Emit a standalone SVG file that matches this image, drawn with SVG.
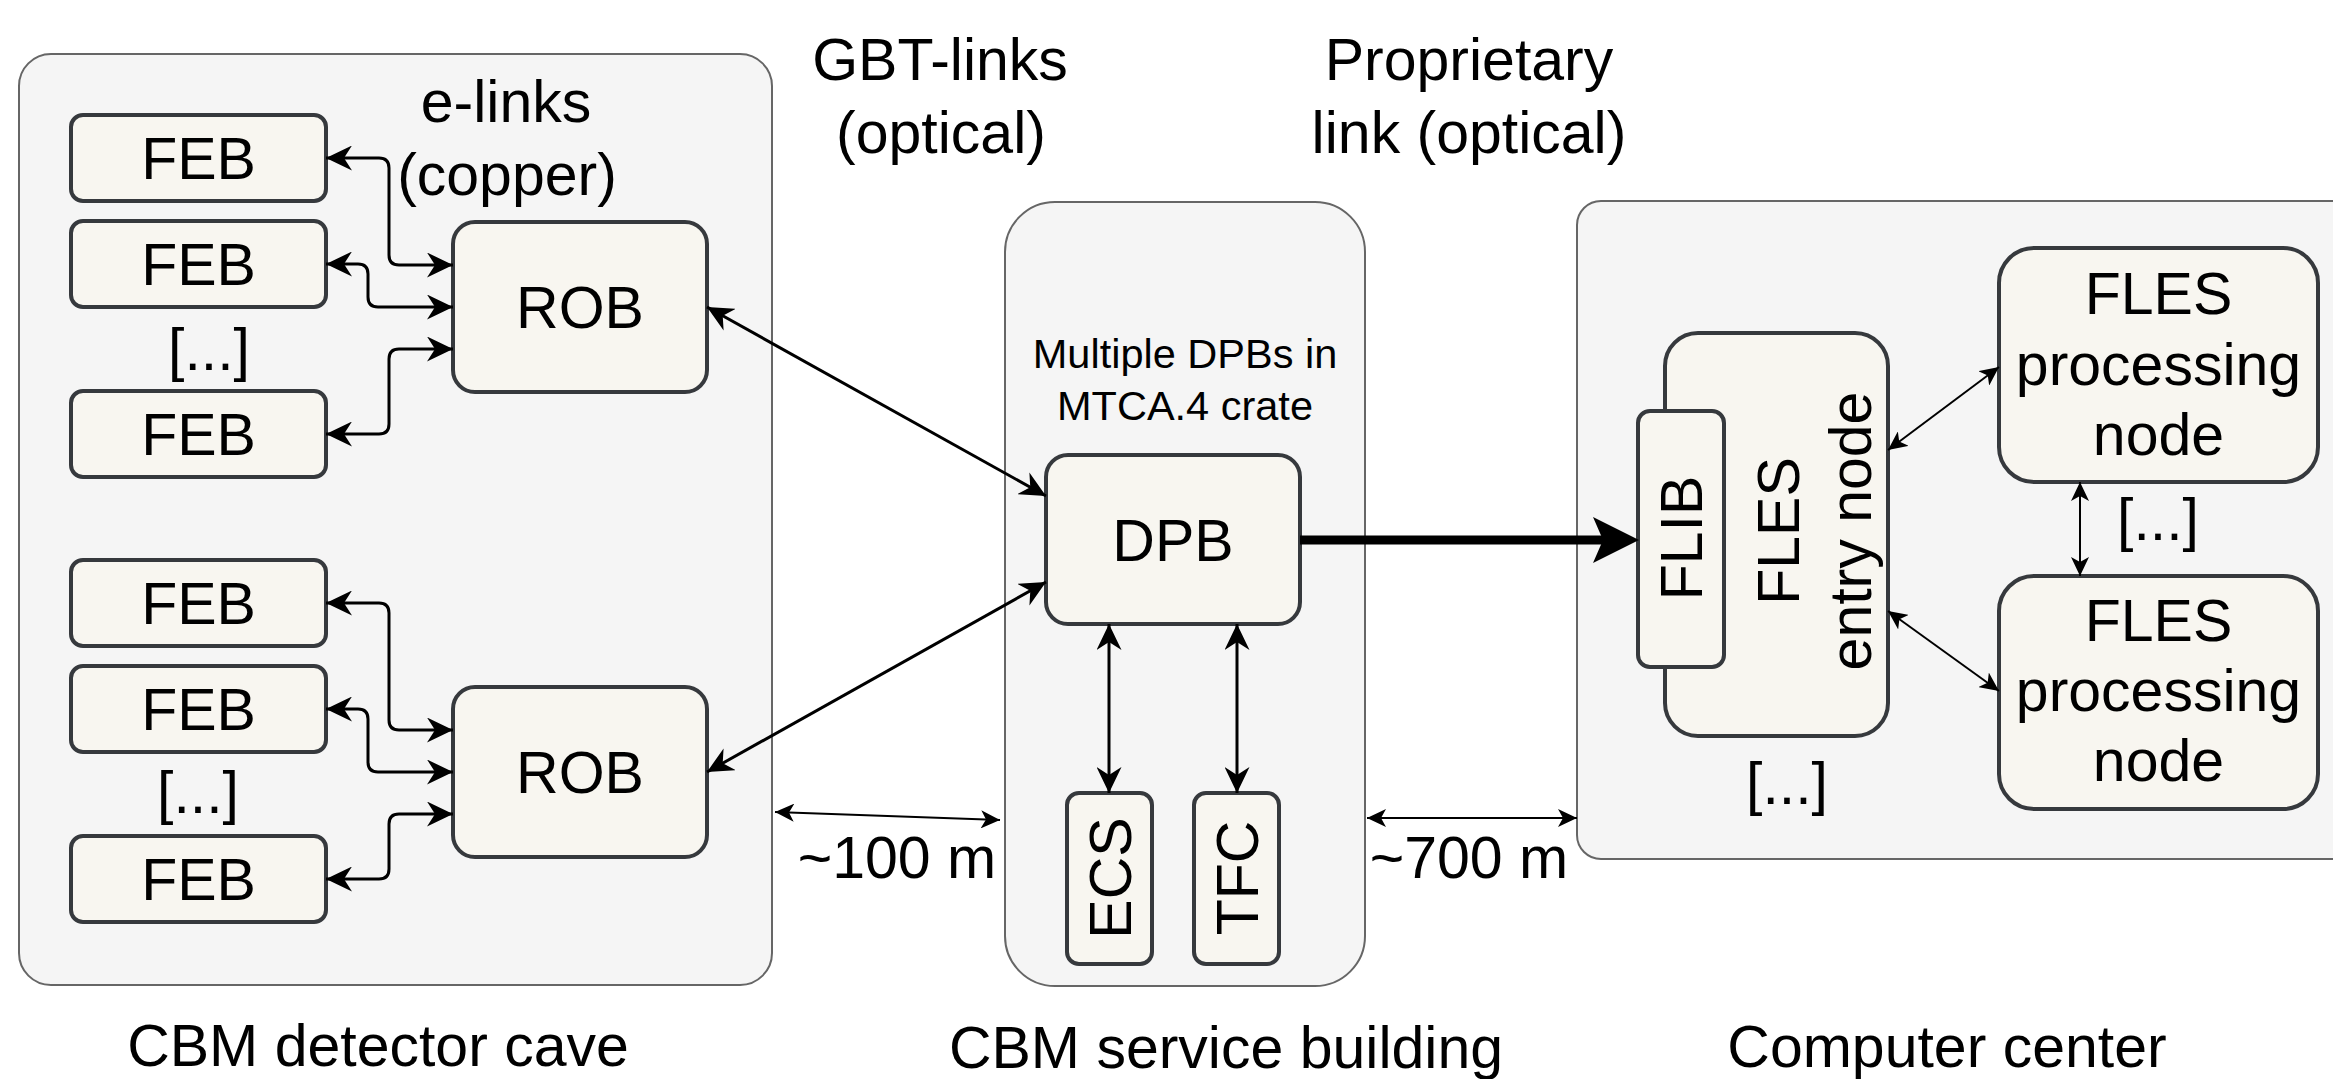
<svg xmlns="http://www.w3.org/2000/svg" width="2333" height="1079" viewBox="0 0 2333 1079">
  <style>
    text { font-family: "Liberation Sans", Arial, Helvetica, sans-serif; fill: #000; }
    .big { font-size: 59px; text-anchor: middle; }
    .small { font-size: 41.5px; text-anchor: middle; }
    .area { fill: #f5f5f5; stroke: #666666; stroke-width: 2; }
    .box { fill: #f8f6f0; stroke: #36393d; stroke-width: 4; }
    .link { fill: none; stroke: #000; stroke-width: 3; marker-start: url(#headM); marker-end: url(#headM); }
    .thin { fill: none; stroke: #000; stroke-width: 2; marker-start: url(#headS); marker-end: url(#headS); }
    .bold { fill: none; stroke: #000; stroke-width: 9; marker-end: url(#headL); }
  </style>
  <defs>
    <marker id="headM" viewBox="0 0 26 25" refX="26" refY="12.5" markerWidth="26" markerHeight="25" markerUnits="userSpaceOnUse" orient="auto-start-reverse">
      <path d="M0,0 L26,12.5 L0,25 L8,12.5 Z" fill="#000"/>
    </marker>
    <marker id="headS" viewBox="0 0 19 18" refX="19" refY="9" markerWidth="19" markerHeight="18" markerUnits="userSpaceOnUse" orient="auto-start-reverse">
      <path d="M0,0 L19,9 L0,18 L5,9 Z" fill="#000"/>
    </marker>
    <marker id="headL" viewBox="0 0 46 46" refX="17" refY="23" markerWidth="46" markerHeight="46" markerUnits="userSpaceOnUse" orient="auto">
      <path d="M0,0 L46,23 L0,46 L10,23 Z" fill="#000"/>
    </marker>
  </defs>

  <!-- Site areas -->
  <g id="area-cave">
    <rect class="area" x="19" y="54" width="753" height="931" rx="32"/>
    <text class="big" x="378" y="1066">CBM detector cave</text>
  </g>
  <g id="area-service">
    <rect class="area" x="1005" y="202" width="360" height="784" rx="50"/>
    <text class="big" x="1226" y="1068">CBM service building</text>
    <text class="small" x="1185" y="368">Multiple DPBs in</text>
    <text class="small" x="1185" y="420">MTCA.4 crate</text>
  </g>
  <g id="area-computer">
    <rect class="area" x="1577" y="201" width="800" height="658" rx="24"/>
    <text class="big" x="1947" y="1067">Computer center</text>
  </g>

  <!-- Link labels -->
  <g id="labels">
    <text class="big" x="506" y="122">e-links</text>
    <text class="big" x="507" y="195">(copper)</text>
    <text class="big" x="940" y="80">GBT-links</text>
    <text class="big" x="941" y="153">(optical)</text>
    <text class="big" x="1469" y="80">Proprietary</text>
    <text class="big" x="1469" y="153">link (optical)</text>
    <text class="big" x="897" y="878">~100 m</text>
    <text class="big" x="1469" y="878">~700 m</text>
    <text class="big" x="209" y="370">[...]</text>
    <text class="big" x="198" y="813">[...]</text>
    <text class="big" x="1787" y="804">[...]</text>
    <text class="big" x="2158" y="540">[...]</text>
  </g>

  <!-- Front-end boards -->
  <g id="feb1"><rect class="box" x="71" y="115" width="255" height="86" rx="12"/><text class="big" x="198.5" y="179">FEB</text></g>
  <g id="feb2"><rect class="box" x="71" y="221" width="255" height="86" rx="12"/><text class="big" x="198.5" y="285">FEB</text></g>
  <g id="feb3"><rect class="box" x="71" y="391" width="255" height="86" rx="12"/><text class="big" x="198.5" y="455">FEB</text></g>
  <g id="feb4"><rect class="box" x="71" y="560" width="255" height="86" rx="12"/><text class="big" x="198.5" y="624">FEB</text></g>
  <g id="feb5"><rect class="box" x="71" y="666" width="255" height="86" rx="12"/><text class="big" x="198.5" y="730">FEB</text></g>
  <g id="feb6"><rect class="box" x="71" y="836" width="255" height="86" rx="12"/><text class="big" x="198.5" y="900">FEB</text></g>

  <!-- Readout boards -->
  <g id="rob1"><rect class="box" x="453" y="222" width="254" height="170" rx="22"/><text class="big" x="580" y="328">ROB</text></g>
  <g id="rob2"><rect class="box" x="453" y="687" width="254" height="170" rx="22"/><text class="big" x="580" y="793">ROB</text></g>

  <!-- Service building -->
  <g id="dpb"><rect class="box" x="1046" y="455" width="254" height="169" rx="22"/><text class="big" x="1173" y="561">DPB</text></g>
  <g id="ecs"><rect class="box" x="1067" y="793" width="85" height="171" rx="12"/><text class="big" transform="translate(1109.5,878) rotate(-90)" x="0" y="21">ECS</text></g>
  <g id="tfc"><rect class="box" x="1194" y="793" width="85" height="171" rx="12"/><text class="big" transform="translate(1236.5,878) rotate(-90)" x="0" y="21">TFC</text></g>

  <!-- Computer center -->
  <g id="entry-node">
    <rect class="box" x="1665" y="333" width="223" height="403" rx="33"/>
    <text class="big" transform="translate(1835,531) rotate(-90)" x="0" y="-36">FLES</text>
    <text class="big" transform="translate(1835,531) rotate(-90)" x="0" y="36">entry node</text>
  </g>
  <g id="flib"><rect class="box" x="1638" y="411" width="86" height="256" rx="12"/><text class="big" transform="translate(1681,538) rotate(-90)" x="0" y="21">FLIB</text></g>
  <g id="proc1">
    <rect class="box" x="1999" y="248" width="319" height="234" rx="35"/>
    <text class="big" x="2158.5" y="314">FLES</text>
    <text class="big" x="2158.5" y="385">processing</text>
    <text class="big" x="2158.5" y="455">node</text>
  </g>
  <g id="proc2">
    <rect class="box" x="1999" y="576" width="319" height="233" rx="35"/>
    <text class="big" x="2158.5" y="641">FLES</text>
    <text class="big" x="2158.5" y="711">processing</text>
    <text class="big" x="2158.5" y="781">node</text>
  </g>

  <!-- Connectors -->
  <g id="connectors">
    <path class="link" d="M326,158 H379 Q389,158 389,168 V255 Q389,265 399,265 H453"/>
    <path class="link" d="M326,264 H358 Q368,264 368,274 V297 Q368,307 378,307 H453"/>
    <path class="link" d="M326,434 H379 Q389,434 389,424 V359 Q389,349 399,349 H453"/>
    <path class="link" d="M326,603 H379 Q389,603 389,613 V720 Q389,730 399,730 H453"/>
    <path class="link" d="M326,709 H358 Q368,709 368,719 V762 Q368,772 378,772 H453"/>
    <path class="link" d="M326,879 H379 Q389,879 389,869 V824 Q389,814 399,814 H453"/>
    <path class="link" d="M707,307 L1046,496"/>
    <path class="link" d="M707,772 L1046,582"/>
    <path class="link" d="M1109,624 V793"/>
    <path class="link" d="M1237,624 V793"/>
    <path class="thin" d="M775,812 L1000,820"/>
    <path class="thin" d="M1367,818 L1577,818"/>
    <path class="thin" d="M1888,450 L1999,367"/>
    <path class="thin" d="M1888,611 L1999,691"/>
    <path class="thin" d="M2080,482 V576"/>
    <path class="bold" d="M1300,540 H1610"/>
  </g>
</svg>
